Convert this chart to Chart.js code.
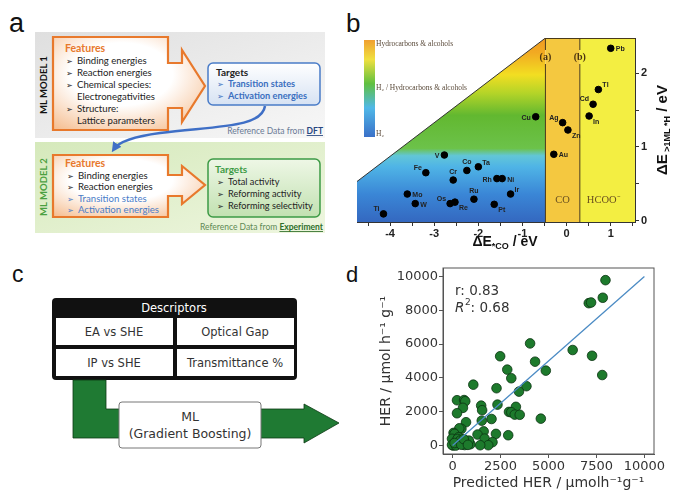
<!DOCTYPE html>
<html>
<head>
<meta charset="utf-8">
<script src="https://cdn.jsdelivr.net/npm/chart.js@4.4.1/dist/chart.umd.min.js"></script>
<style>
  html, body { margin: 0; padding: 0; background: #fff; }
  #fig { position: relative; width: 684px; height: 500px; overflow: hidden; }
  .wrap { position: absolute; width: 344px; height: 250px; }
  #wb { left: 340px; top: 0; }
  #wd { left: 340px; top: 250px; }
</style>
</head>
<body>
<div id="fig">
<svg width="684" height="500" style="position:absolute;left:0;top:0" font-family="Lato, 'Liberation Sans', sans-serif">
  <defs>
    <linearGradient id="bg1" x1="0" y1="0" x2="1" y2="1"><stop offset="0" stop-color="#dfdfdf"/><stop offset="1" stop-color="#f7f7f7"/></linearGradient>
    <linearGradient id="bg2" x1="0" y1="0" x2="1" y2="1"><stop offset="0" stop-color="#d5e9bb"/><stop offset="1" stop-color="#eef6df"/></linearGradient>
    <radialGradient id="feat" cx="0.45" cy="0.4" r="0.75"><stop offset="0.45" stop-color="#ffffff"/><stop offset="1" stop-color="#f5bb8c"/></radialGradient>
    <linearGradient id="tgtB" x1="0" y1="0" x2="0" y2="1"><stop offset="0" stop-color="#ffffff"/><stop offset="1" stop-color="#d6e2f3"/></linearGradient>
    <linearGradient id="tgtG" x1="0" y1="0" x2="0" y2="1"><stop offset="0" stop-color="#eef7e6"/><stop offset="1" stop-color="#c2e1b1"/></linearGradient>
    <marker id="blueHead" viewBox="0 0 10 10" refX="6" refY="5" markerWidth="4" markerHeight="4" orient="auto"><path d="M0,0 L10,5 L0,10 z" fill="#3f6fc6"/></marker>
  </defs>

  <!-- panel a -->
  <rect x="35" y="32" width="290" height="106" fill="url(#bg1)"/>
  <rect x="35" y="142" width="290" height="91" fill="url(#bg2)"/>
  <text transform="translate(47,85) rotate(-90)" text-anchor="middle" font-size="9.5" font-weight="bold" fill="#111">ML MODEL 1</text>
  <text transform="translate(47,187) rotate(-90)" text-anchor="middle" font-size="9.5" font-weight="bold" fill="#4aa040">ML MODEL 2</text>

  <path d="M53,37 H168 V63 H182 V50 L205,86 L182,122 V108 H168 V130 H53 Z" fill="url(#feat)" stroke="#e8792c" stroke-width="2.2"/>
  <path d="M53,155 H168 V175 H182 V166 L205,185 L182,204 V196 H168 V217 H53 Z" fill="url(#feat)" stroke="#e8792c" stroke-width="2.2"/>
  <rect x="208" y="63" width="112" height="42" rx="5" fill="url(#tgtB)" stroke="#4a7cc8" stroke-width="1.5"/>
  <rect x="208" y="159" width="112" height="58" rx="5" fill="url(#tgtG)" stroke="#3d9a45" stroke-width="1.5"/>

  <g font-size="9.6" fill="#222">
    <text x="65" y="52" font-weight="bold" fill="#e8792c" font-size="10.5">Features</text>
    <text x="66" y="63.5"><tspan font-family="DejaVu Sans" font-size="8">➢</tspan><tspan x="77">Binding energies</tspan></text>
    <text x="66" y="75.5"><tspan font-family="DejaVu Sans" font-size="8">➢</tspan><tspan x="77">Reaction energies</tspan></text>
    <text x="66" y="87.5"><tspan font-family="DejaVu Sans" font-size="8">➢</tspan><tspan x="77">Chemical species:</tspan></text>
    <text x="77" y="99.5">Electronegativities</text>
    <text x="66" y="111.5"><tspan font-family="DejaVu Sans" font-size="8">➢</tspan><tspan x="77">Structure:</tspan></text>
    <text x="77" y="123.5">Lattice parameters</text>

    <text x="216" y="76" font-weight="bold" font-size="10">Targets</text>
    <text x="217" y="87" fill="#3a6fc0" font-weight="bold" font-size="9.2"><tspan font-family="DejaVu Sans" font-size="8">➢</tspan><tspan x="228">Transition states</tspan></text>
    <text x="217" y="99" fill="#3a6fc0" font-weight="bold" font-size="9.2"><tspan font-family="DejaVu Sans" font-size="8">➢</tspan><tspan x="228">Activation energies</tspan></text>

    <text x="65" y="167" font-weight="bold" fill="#e8792c" font-size="10.5">Features</text>
    <text x="67" y="178.5"><tspan font-family="DejaVu Sans" font-size="8">➢</tspan><tspan x="78">Binding energies</tspan></text>
    <text x="67" y="190"><tspan font-family="DejaVu Sans" font-size="8">➢</tspan><tspan x="78">Reaction energies</tspan></text>
    <text x="67" y="201.5" fill="#4a7cc8"><tspan font-family="DejaVu Sans" font-size="8">➢</tspan><tspan x="78">Transition states</tspan></text>
    <text x="67" y="213" fill="#4a7cc8"><tspan font-family="DejaVu Sans" font-size="8">➢</tspan><tspan x="78">Activation energies</tspan></text>

    <text x="215" y="173" font-weight="bold" fill="#3d9a45" font-size="10">Targets</text>
    <text x="217" y="184.5" font-size="9.2"><tspan font-family="DejaVu Sans" font-size="8">➢</tspan><tspan x="228">Total activity</tspan></text>
    <text x="217" y="196.5" font-size="9.2"><tspan font-family="DejaVu Sans" font-size="8">➢</tspan><tspan x="228">Reforming activity</tspan></text>
    <text x="217" y="208.5" font-size="9.2"><tspan font-family="DejaVu Sans" font-size="8">➢</tspan><tspan x="228">Reforming selectivity</tspan></text>
  </g>
  <text x="323" y="134" text-anchor="end" font-size="8.5" fill="#6a7a96">Reference Data from <tspan font-weight="bold" fill="#27467f" text-decoration="underline">DFT</tspan></text>
  <text x="323" y="230" text-anchor="end" font-size="8.5" fill="#5f8a55">Reference Data from <tspan font-weight="bold" fill="#2f6e2a" text-decoration="underline">Experiment</tspan></text>
  <path d="M265,106 C262,128 215,126 160,133 C130,137 118,143 114,149" fill="none" stroke="#3f6fc6" stroke-width="2.5" marker-end="url(#blueHead)"/>

  <!-- panel c -->
  <rect x="52" y="298" width="245" height="82" rx="4" fill="#111"/>
  <rect x="56" y="318" width="117" height="27" fill="#fff"/>
  <rect x="177" y="318" width="117" height="27" fill="#fff"/>
  <rect x="56" y="349" width="117" height="27" fill="#fff"/>
  <rect x="177" y="349" width="117" height="27" fill="#fff"/>
  <g font-family="'DejaVu Sans', sans-serif" font-size="11.5" text-anchor="middle" fill="#333">
    <text x="174" y="312" fill="#fff">Descriptors</text>
    <text x="114" y="336">EA vs SHE</text>
    <text x="235" y="336">Optical Gap</text>
    <text x="114" y="367">IP vs SHE</text>
    <text x="235" y="367">Transmittance %</text>
  </g>
  <path d="M73,380 H106 V409 H304 V404 L339,423 L304,443 V438 H73 Z" fill="#1f7a33" stroke="#0c3a14" stroke-width="0.8"/>
  <rect x="119" y="402" width="142" height="46" rx="3" fill="#fff" stroke="#777" stroke-width="1"/>
  <g font-family="'DejaVu Sans', sans-serif" font-size="12.5" text-anchor="middle" fill="#333">
    <text x="190" y="421">ML</text>
    <text x="190" y="438">(Gradient Boosting)</text>
  </g>

  <!-- panel letters -->
  <g font-family="'Liberation Sans', Arial, sans-serif" fill="#111">
    <text x="9" y="32" font-size="27">a</text>
    <text x="346" y="32" font-size="26">b</text>
    <text x="12" y="282" font-size="23">c</text>
    <text x="346" y="282" font-size="22">d</text>
  </g>
</svg>
<div id="wb" class="wrap"><canvas id="cb" width="344" height="250"></canvas></div>
<div id="wd" class="wrap"><canvas id="cd" width="344" height="250"></canvas></div>
</div>

<script>
// panel b: binding energies of metals
const elements = ['Ti', 'W', 'Mo', 'Fe', 'V', 'Cr', 'Co', 'Ta', 'Os', 'Re', 'Ru', 'Rh', 'Ni', 'Ir', 'Pt', 'Cu', 'Ag', 'Zn', 'Au', 'Cd', 'Tl', 'In', 'Pb'];
const dECO = [-4.15, -3.43, -3.61, -3.19, -2.77, -2.57, -2.26, -2.0, -2.64, -2.53, -2.1, -1.58, -1.46, -1.27, -1.64, -0.70, -0.09, 0.03, -0.29, 0.60, 0.72, 0.51, 1.0];
const dEH = [0.09, 0.23, 0.36, 0.65, 0.89, 0.55, 0.68, 0.73, 0.23, 0.25, 0.29, 0.57, 0.57, 0.36, 0.22, 1.41, 1.33, 1.23, 0.90, 1.58, 1.78, 1.42, 2.34];
const ticksECO = [-4.5, -4, -3.5, -3, -2.5, -2, -1.5, -1, -0.5, 0, 0.5, 1, 1.5];
const ticksEH = [0, 0.5, 1, 1.5, 2];
// edge of the white region and limits (a) / (b)
const edgeX = [-4.75, -0.48];
const edgeY = [0.53, 2.48];
const zoneEdges = [-0.48, 0.3];
const zoneNames = ['CO', 'HCOO⁻'];
const limitNames = ['(a)', '(b)'];
const barLabels = ['Hydrocarbons & alcohols', 'H₂ / Hydrocarbons & alcohols', 'H₂'];

// panel d: predicted vs measured HER
const predHER = [7970, 7830, 7100, 7220, 6260, 7270, 7800, 4040, 4300, 4860, 2480, 2850, 3060, 3850, 3460, 2290, 1080,
  2340, 3300, 2940, 3060, 3240, 3500, 4600, 1490, 1540, 2030, 1520, 2900, 2260, 1620, 1300, 1670, 2080, 1860, 1440,
  230, 600, 660, 540, 230, 700, 460, 350, 50, 100, -30, 20, 140, 310, 320, 490, 530, 750, 760, 930, 630, 230, -30,
  260, 400, 660, 170, 850, 100, 450, 580, 800];
const measHER = [9780, 8740, 8420, 8460, 5650, 5310, 4170, 6040, 4960, 4430, 5280, 4490, 3980, 3510, 3190, 3390, 3600,
  2420, 2290, 1990, 1970, 1830, 1820, 1590, 2360, 2090, 1570, 1470, 610, 690, 840, 650, 410, 200, 20, 20,
  2680, 2690, 2620, 2230, 1910, 1380, 990, 1020, 750, 690, 400, 0, 200, 490, 100, 200, 80, 200, 90, 80, 30, 90, 40,
  390, 300, 290, 0, 290, 150, 50, 380, 40];
const fitX = [0, 10000];
const fitY = [0, 10000];
const ticksPred = [0, 2500, 5000, 7500, 10000];
const ticksHER = [0, 2000, 4000, 6000, 8000, 10000];
const stats = ['r: 0.83', '0.68'];

// where each element name sits next to its dot
const labelSide = { Ti: 'lu', W: 'r', Mo: 'r', Fe: 'lu', V: 'l', Cr: 'u', Co: 'u', Ta: 'ru', Os: 'lu', Re: 'rd', Ru: 'u',
  Rh: 'l', Ni: 'r', Ir: 'ru', Pt: 'rd', Cu: 'l', Ag: 'lu', Zn: 'rd', Au: 'r', Cd: 'lu', Tl: 'ru', In: 'rd', Pb: 'r' };
const sideOffset = { r: [5, 1, 'left'], l: [-5, 1, 'right'], lu: [-4, -5, 'right'], ru: [4, -4, 'left'], rd: [4, 6, 'left'], u: [0, -8, 'center'] };

const heatStops = [[0, '#3468c0'], [0.15, '#3a86d6'], [0.30, '#4fb4e6'], [0.36, '#62c6d8'], [0.40, '#6cc24a'],
  [0.58, '#62b830'], [0.70, '#b4d428'], [0.80, '#f2de22'], [0.92, '#f2aa22'], [1, '#f09a20']];

function drawRich(ctx, parts, x, y) {
  let w = 0;
  parts.forEach(p => {
    ctx.font = `bold ${p.size}px "Liberation Sans", Arial, sans-serif`;
    p.w = ctx.measureText(p.t).width;
    w += p.w;
  });
  let cx = x - w / 2;
  ctx.textAlign = 'left';
  ctx.textBaseline = 'alphabetic';
  parts.forEach(p => {
    ctx.font = `bold ${p.size}px "Liberation Sans", Arial, sans-serif`;
    ctx.fillText(p.t, cx, y + (p.dy || 0));
    cx += p.w;
  });
}

const zonesPlugin = {
  id: 'zones',
  beforeDatasetsDraw(chart) {
    const { ctx, chartArea: a, scales: { x } } = chart;
    const xa = x.getPixelForValue(zoneEdges[0]);
    const xb = x.getPixelForValue(zoneEdges[1]);
    ctx.save();
    const g = ctx.createLinearGradient(0, a.bottom, 0, a.top);
    heatStops.forEach(s => g.addColorStop(s[0], s[1]));
    ctx.fillStyle = g;
    ctx.fillRect(a.left, a.top, xa - a.left, a.height);
    ctx.fillStyle = '#f4c840';
    ctx.fillRect(xa, a.top, xb - xa, a.height);
    ctx.fillStyle = '#f3ee42';
    ctx.fillRect(xb, a.top, a.right - xb, a.height);
    ctx.restore();
  },
  afterDatasetsDraw(chart) {
    const { ctx, chartArea: a, scales: { x } } = chart;
    ctx.save();
    // limit lines, broken around their labels
    const ty = a.top + 19;
    ctx.strokeStyle = '#4a3a1a';
    ctx.lineWidth = 1;
    zoneEdges.forEach((v, i) => {
      const px = x.getPixelForValue(v);
      ctx.beginPath();
      ctx.moveTo(px, a.top); ctx.lineTo(px, ty - 7);
      ctx.moveTo(px, ty + 7); ctx.lineTo(px, a.bottom);
      ctx.stroke();
      ctx.fillStyle = '#4a3210';
      ctx.font = 'bold 10px "Liberation Serif", serif';
      ctx.textAlign = 'center'; ctx.textBaseline = 'middle';
      ctx.fillText(limitNames[i], px, ty);
    });
    ctx.beginPath();
    ctx.moveTo(x.getPixelForValue(zoneEdges[0]), a.top + 0.5);
    ctx.lineTo(a.right, a.top + 0.5);
    ctx.stroke();
    // product zone names
    ctx.fillStyle = '#6a5020';
    ctx.font = '10.5px "Liberation Serif", serif';
    ctx.fillText(zoneNames[0], x.getPixelForValue((zoneEdges[0] + zoneEdges[1]) / 2), a.bottom - 22);
    ctx.fillText(zoneNames[1], x.getPixelForValue(0.84), a.bottom - 22);
    // colour bar
    const cbx = a.left + 7, cby = a.top + 2, cbw = 11, cbh = 97;
    const cg = ctx.createLinearGradient(0, cby + cbh, 0, cby);
    [[0, '#3a70c8'], [0.3, '#50b8e8'], [0.55, '#60c040'], [0.8, '#f0e040'], [1, '#f0a030']].forEach(s => cg.addColorStop(s[0], s[1]));
    ctx.fillStyle = cg;
    ctx.fillRect(cbx, cby, cbw, cbh);
    ctx.fillStyle = '#5a4a3a';
    ctx.font = '7.5px "Liberation Serif", serif';
    ctx.textAlign = 'left';
    ctx.fillText(barLabels[0], cbx + cbw + 1, cby + 4);
    ctx.fillText(barLabels[1], cbx + cbw + 1, cby + 48);
    ctx.fillText(barLabels[2], cbx + cbw + 1, cby + 94);
    // element names
    const meta = chart.getDatasetMeta(0);
    ctx.fillStyle = '#222';
    ctx.font = 'bold 7px "Liberation Sans", Arial, sans-serif';
    meta.data.forEach((pt, i) => {
      const o = sideOffset[labelSide[elements[i]]];
      ctx.textAlign = o[2];
      ctx.fillText(elements[i], pt.x + o[0], pt.y + o[1]);
    });
    ctx.restore();
  },
  afterDraw(chart) {
    const { ctx, chartArea: a } = chart;
    ctx.save();
    ctx.fillStyle = '#111';
    drawRich(ctx, [{ t: 'ΔE', size: 14 }, { t: '*CO', size: 9, dy: 3 }, { t: ' / eV', size: 14 }], (a.left + a.right) / 2 + 9, 246);
    ctx.translate(a.right + 27, (a.top + a.bottom) / 2);
    ctx.rotate(-Math.PI / 2);
    drawRich(ctx, [{ t: 'ΔE', size: 15 }, { t: ' >1ML *H', size: 9, dy: 3 }, { t: ' / eV', size: 15 }], 0, 5);
    ctx.restore();
  }
};

const tickFontB = { family: '"Liberation Sans", Arial, sans-serif', weight: 'bold', size: 11 };

new Chart(document.getElementById('cb'), {
  type: 'scatter',
  data: {
    datasets: [
      {
        label: 'metals',
        data: elements.map((n, i) => ({ x: dECO[i], y: dEH[i] })),
        backgroundColor: '#000',
        borderColor: '#000',
        pointRadius: 3.3,
        order: 0
      },
      {
        type: 'line',
        label: 'edge',
        data: edgeX.map((v, i) => ({ x: v, y: edgeY[i] })),
        showLine: true,
        fill: 'end',
        backgroundColor: '#fff',
        borderColor: '#333',
        borderWidth: 1,
        pointRadius: 0,
        order: 1
      }
    ]
  },
  options: {
    responsive: false,
    animation: false,
    layout: { padding: { left: 17, top: 38, right: 0, bottom: 0 } },
    plugins: { legend: { display: false }, tooltip: { enabled: false } },
    scales: {
      x: {
        type: 'linear',
        min: -4.75,
        max: 1.55,
        afterBuildTicks(s) { s.ticks = ticksECO.map(v => ({ value: v })); },
        ticks: {
          autoSkip: false, maxRotation: 0, padding: 1,
          callback: v => Number.isInteger(v) ? String(v) : '',
          font: tickFontB, color: '#222'
        },
        grid: { drawOnChartArea: false, tickLength: 4, color: '#333' },
        border: { color: '#333' },
        afterFit(s) { s.height = 28; }
      },
      y: {
        position: 'right',
        min: -0.02,
        max: 2.48,
        afterBuildTicks(s) { s.ticks = ticksEH.map(v => ({ value: v })); },
        ticks: {
          autoSkip: false, padding: 2,
          callback: v => Number.isInteger(v) ? String(v) : '',
          font: tickFontB, color: '#222'
        },
        grid: { drawOnChartArea: false, tickLength: 4, color: '#333' },
        border: { color: '#333' },
        afterFit(s) { s.width = 49; }
      }
    }
  },
  plugins: [zonesPlugin]
});

// panel d
const framePlugin = {
  id: 'frame',
  afterDraw(chart) {
    const { ctx, chartArea: a } = chart;
    ctx.save();
    ctx.strokeStyle = '#555';
    ctx.lineWidth = 1;
    ctx.strokeRect(a.left, a.top, a.width, a.height);
    ctx.fillStyle = '#333';
    ctx.font = '13.5px "DejaVu Sans", sans-serif';
    ctx.textAlign = 'left';
    ctx.textBaseline = 'alphabetic';
    ctx.fillText(stats[0], a.left + 12, a.top + 27);
    ctx.font = 'italic 13.5px "DejaVu Sans", sans-serif';
    ctx.fillText('R', a.left + 12, a.top + 44);
    let w = ctx.measureText('R').width;
    ctx.font = '9px "DejaVu Sans", sans-serif';
    ctx.fillText('2', a.left + 12 + w + 0.5, a.top + 37);
    w += ctx.measureText('2').width + 0.5;
    ctx.font = '13.5px "DejaVu Sans", sans-serif';
    ctx.fillText(': ' + stats[1], a.left + 12 + w, a.top + 44);
    ctx.restore();
  }
};

const tickFontD = { family: '"DejaVu Sans", sans-serif', size: 13 };

new Chart(document.getElementById('cd'), {
  type: 'scatter',
  data: {
    datasets: [
      {
        type: 'line',
        label: 'fit',
        data: fitX.map((v, i) => ({ x: v, y: fitY[i] })),
        showLine: true,
        borderColor: '#4b8bc4',
        borderWidth: 1.3,
        pointRadius: 0,
        order: 0
      },
      {
        label: 'HER',
        data: predHER.map((v, i) => ({ x: v, y: measHER[i] })),
        backgroundColor: '#1d7a2c',
        borderColor: '#0b3312',
        borderWidth: 0.8,
        pointRadius: 4.8,
        order: 1
      }
    ]
  },
  options: {
    responsive: false,
    animation: false,
    layout: { padding: { left: 30, top: 18, right: 30, bottom: 0 } },
    plugins: { legend: { display: false }, tooltip: { enabled: false } },
    scales: {
      x: {
        type: 'linear',
        min: -500,
        max: 10500,
        afterBuildTicks(s) { s.ticks = ticksPred.map(v => ({ value: v })); },
        ticks: { autoSkip: false, maxRotation: 0, padding: 1, font: tickFontD, color: '#333', callback: v => String(v) },
        grid: { drawOnChartArea: false, tickLength: 4, color: '#555' },
        border: { color: '#555' },
        title: { display: true, text: 'Predicted HER / μmolh⁻¹g⁻¹', font: { family: '"DejaVu Sans", sans-serif', size: 14 }, color: '#333', padding: { top: 0, bottom: 8 } },
        afterFit(s) { s.height = 46; }
      },
      y: {
        min: -500,
        max: 10500,
        afterBuildTicks(s) { s.ticks = ticksHER.map(v => ({ value: v })); },
        ticks: { autoSkip: false, padding: 1, font: tickFontD, color: '#333', callback: v => String(v) },
        grid: { drawOnChartArea: false, tickLength: 4, color: '#555' },
        border: { color: '#555' },
        title: { display: true, text: 'HER / μmol h⁻¹ g⁻¹', font: { family: '"DejaVu Sans", sans-serif', size: 14 }, color: '#333', padding: { top: 8, bottom: 0 } },
        afterFit(s) { s.width = 73; }
      }
    }
  },
  plugins: [framePlugin]
});
</script>
</body>
</html>
